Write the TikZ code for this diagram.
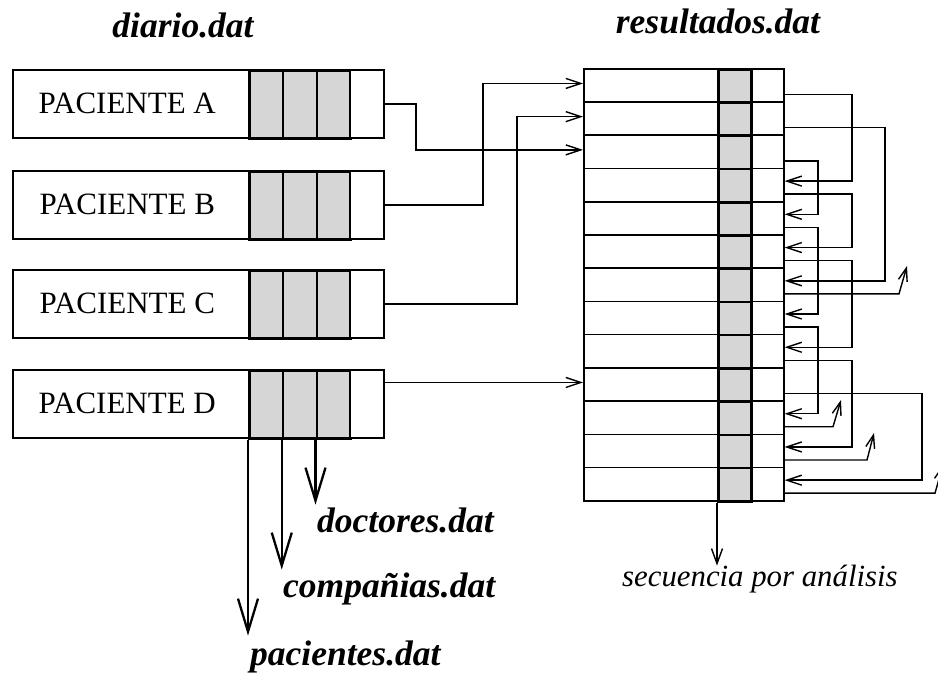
\documentclass[tikz,border=0pt]{standalone}
\usepackage{fontspec}
\setmainfont{Liberation Serif}
\usetikzlibrary{arrows.meta}

\begin{document}
\begin{tikzpicture}[x=1pt, y=-1pt,
  cellfill/.style={fill=black!16},
  txtbox/.style={draw, line width=1.6pt, anchor=north west, inner sep=0pt,
    minimum width=236pt, minimum height=68pt, fill=white,
    font=\fontsize{31}{31}\selectfont},
  pcell/.style={draw, line width=2.6pt, anchor=north west, inner sep=0pt,
    minimum width=33.75pt, minimum height=68pt},
  rowcell/.style={draw, line width=1.6pt, anchor=north west, inner sep=0pt,
    minimum height=33.23pt},
  title/.style={font=\fontsize{35.5}{36}\selectfont\bfseries\itshape, inner sep=0pt},
  link/.style={line width=1.4pt, -{Straight Barb[length=15pt, width=10pt]}},
  uplink/.style={line width=1.4pt, -{Straight Barb[length=13pt, width=9pt]}},
  biglink/.style={line width=2.3pt, -{Straight Barb[length=33pt, width=20pt]}},
]
\useasboundingbox (0,0) rectangle (938,673);
\clip (0,0) rectangle (938,673);

% titles
\node[title, anchor=base] (tdiario) at (183,37) {diario.dat};
\node[title, anchor=base] (tres) at (718,33) {resultados.dat};

% daily records: name field plus three shaded key fields and a link field
\foreach \n/\y in {A/69, B/170, C/269, D/369} {
  \node[txtbox] (p\n) at (12,\y) {PACIENTE \n\kern7pt};
  \node[pcell, cellfill] (p\n1) at (248,\y) {};
  \node[pcell, cellfill] (p\n2) at (281.75,\y) {};
  \node[pcell, cellfill] (p\n3) at (315.5,\y) {};
  \node[pcell, fill=white, line width=1.8pt] (p\n4) at (349.25,\y) {};
}

% results file: 13 records, shaded analysis field and link field
\foreach \i in {0,...,12} {
  \node[rowcell, minimum width=134pt] (r\i) at (583,{68+33.23*\i}) {};
  \node[rowcell, cellfill, minimum width=33pt, line width=2.6pt] (g\i) at (717,{68+33.23*\i}) {};
  \node[rowcell, minimum width=33pt] (w\i) at (750,{68+33.23*\i}) {};
  \coordinate (o\i) at ([yshift=-9pt]w\i.east);
  \coordinate (n\i) at ([yshift=4pt]w\i.east);
  \coordinate (l\i) at ([yshift=2pt]r\i.west);
}

% routing columns
\coordinate (xa) at (416,0);
\coordinate (xb) at (483,0);
\coordinate (xc) at (517,0);
\coordinate (ka) at (818,0);
\coordinate (kb) at (852,0);
\coordinate (kc) at (885,0);
\coordinate (kd) at (922,0);

% patient records to their first result
\draw[link] (pA4.east) -| (xa |- l2) -- (l2);
\draw[link] (pB4.east) -| (xb |- l0) -- (l0);
\draw[link] (pC4.east) -| (xc |- l1) -- (l1);
\draw[link] (l9 -| pD4.east) -- (l9);

% chains between results
\draw[link] (o0) -| (kb |- n3) -- (n3);
\draw[link] (o3) -| (kb |- n5) -- (n5);
\draw[link] (o5) -| (kb |- n8) -- (n8);
\draw[link] (o8) -| (kb |- n11) -- (n11);
\draw[link] (o2) -| (ka |- n4) -- (n4);
\draw[link] (o4) -| (ka |- n7) -- (n7);
\draw[link] (o7) -| (ka |- n10) -- (n10);
\draw[link] (o1) -| (kc |- n6) -- (n6);
\draw[link] (o9) -| (kd |- n12) -- (n12);

% open ends of the chains
\coordinate (b6) at (899,0);  \coordinate (t6) at (907,266);
\coordinate (b10) at (833,0); \coordinate (t10) at (841,400);
\coordinate (b11) at (867,0); \coordinate (t11) at (874,433);
\coordinate (b12) at (935,0); \coordinate (t12) at (943,465);
\draw[uplink] (o6) -- (o6 -| b6) -- (t6);
\draw[uplink] (o10) -- (o10 -| b10) -- (t10);
\draw[uplink] (o11) -- (o11 -| b11) -- (t11);
\draw[uplink] (o12) -- (o12 -| b12) -- (t12);

% sequence by analysis
\draw[line width=1.4pt, -{Straight Barb[length=15pt, width=11pt]}] (g12.south west) -- ++(0,63) coordinate (sq);
\node[font=\fontsize{30.8}{31}\selectfont\itshape, inner sep=0pt, anchor=base west] (tsec) at (622,586) {secuencia por análisis};

% key fields to the master files
\draw[biglink] (pD3.south west) -- ++(0,65) coordinate (kdoc);
\draw[biglink] (pD2.south west) -- ++(0,130) coordinate (kcom);
\draw[biglink] (pD1.south west) -- ++(0,196) coordinate (kpac);
\node[title, anchor=base west] (tdoc) at (317,532) {doctores.dat};
\node[title, anchor=base west] (tcom) at (283,597) {compañias.dat};
\node[title, anchor=base west] (tpac) at (250,665) {pacientes.dat};
\end{tikzpicture}
\end{document}
